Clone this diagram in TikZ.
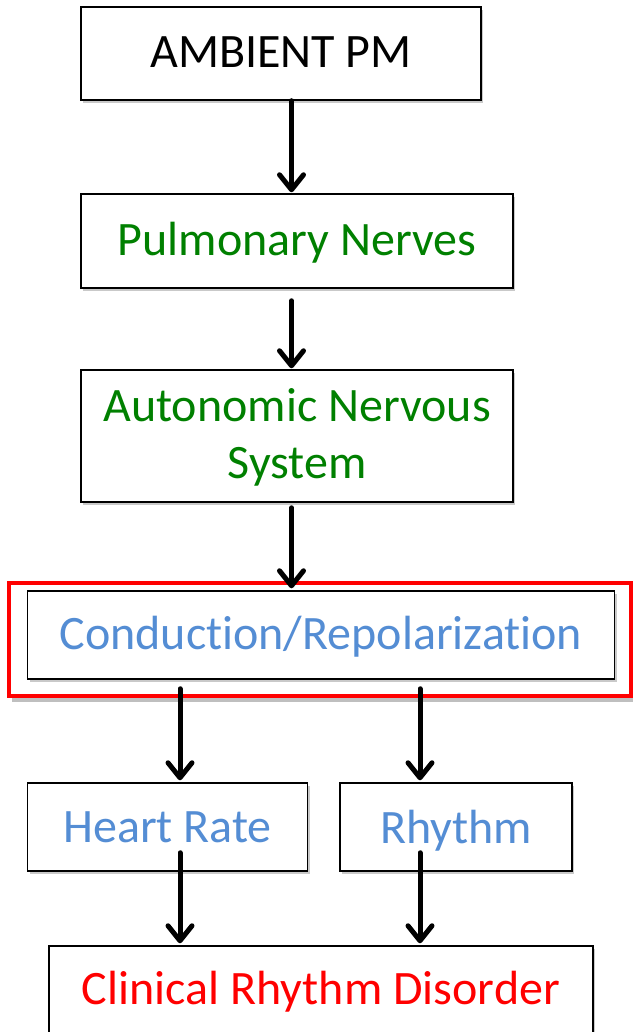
\documentclass[tikz,border=0pt]{standalone}
\usepackage{fontspec}
\setmainfont{Carlito}[RawFeature=-liga]
\usetikzlibrary{arrows.meta,shadows}
\definecolor{tgreen}{RGB}{0,128,0}
\definecolor{tblue}{RGB}{84,141,212}
\definecolor{tred}{RGB}{255,0,0}
\newcommand{\lowtxt}[2][-3pt]{\raisebox{#1}[\height][\depth]{\begin{tabular}{@{}c@{}}#2\end{tabular}}}
\begin{document}
\begin{tikzpicture}[x=1pt,y=-1pt,
  box/.style={draw=black,line width=1.5pt,fill=white,inner sep=0pt,align=center,
    font=\fontsize{48}{57}\selectfont,
    drop shadow={shadow xshift=2pt,shadow yshift=-3pt,opacity=0.35,fill=black!60}},
  arr/.style={line width=5pt,line cap=round,-{Straight Barb[length=15pt,width=24pt,line join=round,line cap=round]}},
  redbox/.style={draw=tred,line width=4pt,inner sep=0pt}]
\useasboundingbox (0,0) rectangle (633,1032);
\clip (0,0) rectangle (633,1032);
\fill[white] (0,0) rectangle (633,1032);
\draw[black!25,line width=4pt] (12,700) -- (633,700);
\node[redbox,minimum width=622pt,minimum height=113pt] (red) at (320,639.5) {};
\node[box,minimum width=400pt,minimum height=93pt] (amb) at (281,53.5) {\lowtxt{AMBIENT PM}};
\node[box,minimum width=432pt,minimum height=94pt,text=tgreen] (pul) at (297,241) {\lowtxt{Pulmonary Nerves}};
\node[box,minimum width=432pt,minimum height=132pt,text=tgreen] (ans) at (297,436) {\lowtxt{Autonomic Nervous\\System}};
\node[box,minimum width=587pt,minimum height=88pt,text=tblue] (cond) at (321,635) {\lowtxt{Conduction/Repolarization}};
\node[box,minimum width=280pt,minimum height=88pt,text=tblue] (hr) at (167.5,827) {Heart Rate};
\node[box,minimum width=232pt,minimum height=88pt,text=tblue] (rh) at (456,827) {\raisebox{-4pt}[\height][\depth]{Rhythm}};
\node[box,minimum width=544pt,minimum height=88pt,text=tred] (cli) at (321,990) {\lowtxt{Clinical Rhythm Disorder}};
\draw[arr] (amb.south -| 291.5,0) -- ([yshift=1pt]pul.north -| 291.5,0);
\draw[arr] ([yshift=-12pt]pul.south -| 291.5,0) -- ([yshift=1pt]ans.north -| 291.5,0);
\draw[arr] ([yshift=-5pt]ans.south -| 291.5,0) -- ([yshift=2pt]cond.north -| 291.5,0);
\draw[arr] ([yshift=-9pt]cond.south -| 180,0) -- ([yshift=2pt]hr.north -| 180,0);
\draw[arr] ([yshift=-9pt]cond.south -| 420,0) -- ([yshift=2pt]rh.north -| 420,0);
\draw[arr] ([yshift=19pt]hr.south -| 180,0) -- ([yshift=2pt]cli.north -| 180,0);
\draw[arr] ([yshift=19pt]rh.south -| 420,0) -- ([yshift=2pt]cli.north -| 420,0);
\end{tikzpicture}
\end{document}
